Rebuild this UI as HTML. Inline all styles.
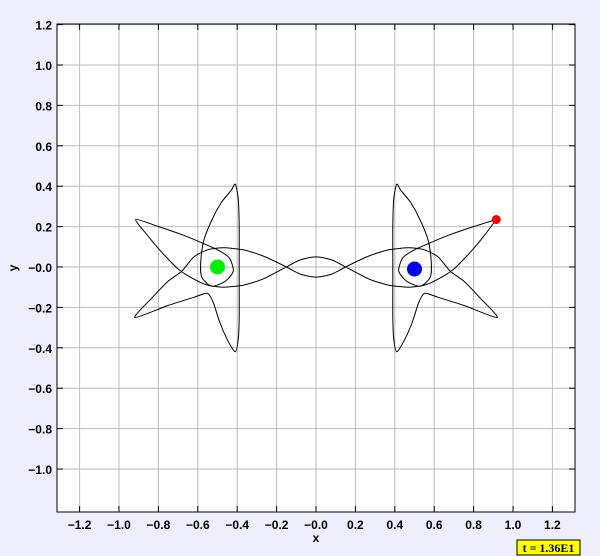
<!DOCTYPE html>
<html><head><meta charset="utf-8"><style>
body{margin:0;background:#eeeefd;}
svg{display:block;font-family:"Liberation Sans",sans-serif;}
</style></head><body>
<svg id="chart" width="600" height="556" viewBox="0 0 600 556" xmlns="http://www.w3.org/2000/svg">
<rect x="0" y="0" width="600" height="556" fill="#eeeefd"/>
<rect x="57" y="24" width="518" height="488" fill="#ffffff"/>
<g id="grid"></g>
<g id="ticks"></g>
<path id="orbit" fill="none" stroke="#000" stroke-width="1"/>
<g id="bodies"></g>
<rect x="57" y="24" width="518" height="488" fill="none" stroke="#000" stroke-width="1"/>
<text x="316" y="542" font-size="12" font-weight="bold" text-anchor="middle">x</text>
<text x="17" y="268" font-size="12" font-weight="bold" text-anchor="middle" transform="rotate(-90 17 268)">y</text>
<rect x="517" y="540" width="63" height="15" fill="#ffff00" stroke="#000"/>
<text x="548.5" y="552" font-size="12" font-weight="bold" text-anchor="middle" font-family="Liberation Serif, serif">t = 1.36E1</text>
</svg>
<script>
const xTicks=[-1.2,-1.0,-0.8,-0.6,-0.4,-0.2,0,0.2,0.4,0.6,0.8,1.0,1.2];
const xTickLabels=["−1.2","−1.0","−0.8","−0.6","−0.4","−0.2","−0.0","0.2","0.4","0.6","0.8","1.0","1.2"];
const yTicks=[-1.0,-0.8,-0.6,-0.4,-0.2,0,0.2,0.4,0.6,0.8,1.0,1.2];
const yTickLabels=["−1.0","−0.8","−0.6","−0.4","−0.2","−0.0","0.2","0.4","0.6","0.8","1.0","1.2"];
const trajX=[0.915,0.8,0.68,0.58,0.5,0.44,0.42,0.46,0.53,0.58,0.585,0.57,0.53,0.48,0.43,0.41,0.395,0.39,0.39,0.39,0.39,0.395,0.41,0.45,0.49,0.52,0.55,0.62,0.75,0.92,0.83,0.75,0.68,0.62,0.55,0.47,0.37,0.27,0.17,0.08,0,-0.08,-0.17,-0.27,-0.37,-0.47,-0.55,-0.62,-0.68,-0.75,-0.83,-0.92,-0.75,-0.62,-0.55,-0.52,-0.49,-0.45,-0.41,-0.395,-0.39,-0.39,-0.39,-0.39,-0.395,-0.41,-0.43,-0.48,-0.53,-0.57,-0.585,-0.58,-0.53,-0.46,-0.42,-0.44,-0.5,-0.58,-0.68,-0.8,-0.915,-0.85,-0.78,-0.7,-0.62,-0.55,-0.47,-0.37,-0.27,-0.17,-0.08,0,0.08,0.17,0.27,0.37,0.47,0.55,0.62,0.7,0.78,0.85,0.915];
const trajY=[0.235,0.2,0.16,0.12,0.085,0.045,-0.02,-0.07,-0.095,-0.05,0.03,0.13,0.23,0.32,0.38,0.41,0.34,0.2,0.05,-0.1,-0.25,-0.36,-0.42,-0.36,-0.27,-0.18,-0.13,-0.15,-0.19,-0.25,-0.15,-0.07,-0.02,0.05,0.085,0.095,0.085,0.055,0.01,-0.035,-0.05,-0.035,0.01,0.055,0.085,0.095,0.085,0.05,-0.02,-0.07,-0.15,-0.25,-0.19,-0.15,-0.13,-0.18,-0.27,-0.36,-0.42,-0.36,-0.25,-0.1,0.05,0.2,0.34,0.41,0.38,0.32,0.23,0.13,0.03,-0.05,-0.095,-0.07,-0.02,0.045,0.085,0.12,0.16,0.2,0.235,0.15,0.07,-0.01,-0.06,-0.09,-0.1,-0.09,-0.06,-0.01,0.035,0.05,0.035,-0.01,-0.06,-0.09,-0.1,-0.09,-0.06,-0.01,0.07,0.15,0.235];
const bodyNames=["primary-green","primary-blue","test-particle"];
const bodyX=[-0.5,0.5,0.915];
const bodyY=[0.0,-0.01,0.235];
const bodyR=[7.5,7.5,4.5];
const bodyColor=["#00ee00","#0000ee","#ee0000"];

const NS="http://www.w3.org/2000/svg";
function sx(v){return 316+v*197;}
function sy(v){return 267-v*202;}
const grid=document.getElementById('grid'), ticks=document.getElementById('ticks');
function mk(tag,attrs,parent){const e=document.createElementNS(NS,tag);for(const k in attrs)e.setAttribute(k,attrs[k]);parent.appendChild(e);return e;}
xTicks.forEach((v,i)=>{
  const X=sx(v);
  const g=mk('line',{x1:X,x2:X,y1:24,y2:512,stroke:'#bbbbbb','stroke-width':1},grid);
  
  
  const t1=mk('line',{x1:X,x2:X,y1:512,y2:506,stroke:'#000'},ticks);
  
  
  const t2=mk('line',{x1:X,x2:X,y1:24,y2:30,stroke:'#000'},ticks);
  
  
  const l=mk('text',{x:X,y:529,'font-size':12,'font-weight':'bold','text-anchor':'middle'},ticks);
  l.textContent=xTickLabels[i];
  
  
});
yTicks.forEach((v,i)=>{
  const Y=sy(v);
  const g=mk('line',{x1:57,x2:575,y1:Y,y2:Y,stroke:'#bbbbbb','stroke-width':1},grid);
  
  
  const t1=mk('line',{x1:57,x2:63,y1:Y,y2:Y,stroke:'#000'},ticks);
  
  
  const t2=mk('line',{x1:575,x2:569,y1:Y,y2:Y,stroke:'#000'},ticks);
  
  
  const l=mk('text',{x:52,y:Y+5,'font-size':12,'font-weight':'bold','text-anchor':'end'},ticks);
  l.textContent=yTickLabels[i];
  
  
});
const P=trajX.map((x,i)=>[sx(x),sy(trajY[i])]);
let d='M'+P[0][0].toFixed(1)+','+P[0][1].toFixed(1);
for(let i=0;i<P.length-1;i++){
  const p0=P[Math.max(0,i-1)],p1=P[i],p2=P[i+1],p3=P[Math.min(P.length-1,i+2)];
  const k=0.12;
  const c1=[p1[0]+(p2[0]-p0[0])*k,p1[1]+(p2[1]-p0[1])*k];
  const c2=[p2[0]-(p3[0]-p1[0])*k,p2[1]-(p3[1]-p1[1])*k];
  d+=' C'+c1[0].toFixed(1)+','+c1[1].toFixed(1)+' '+c2[0].toFixed(1)+','+c2[1].toFixed(1)+' '+p2[0].toFixed(1)+','+p2[1].toFixed(1);
}
document.getElementById('orbit').setAttribute('d',d);
const bodies=document.getElementById('bodies');
bodyX.forEach((x,i)=>{
  const c=mk('circle',{cx:sx(x),cy:sy(bodyY[i]),r:bodyR[i],fill:bodyColor[i]},bodies);
  
  
});
</script>
</body></html>
